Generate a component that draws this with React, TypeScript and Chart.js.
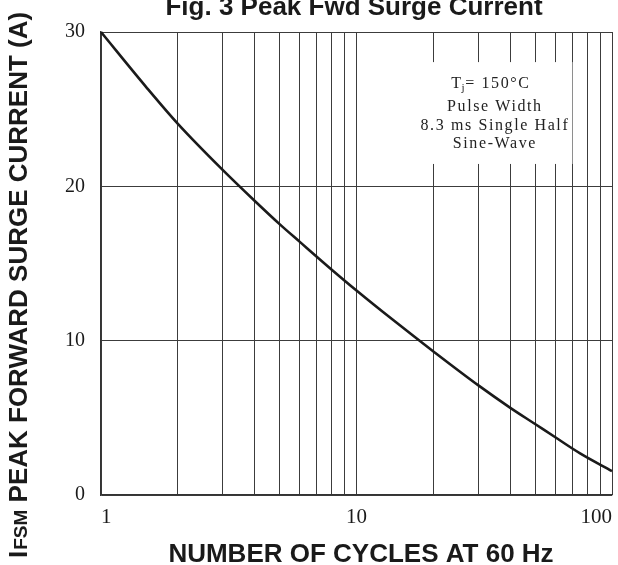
import React, { useEffect, useRef } from "react";
import { Chart, registerables } from "chart.js";

Chart.register(...registerables);

// ---- data ----
const X_CYCLES = [1, 1.5, 2, 3, 4, 5, 6, 8, 10, 14, 20, 30, 40, 50, 60, 75, 100];
const Y_CURRENT = [30, 26.45, 24.05, 21.05, 19.05, 17.55, 16.4, 14.6, 13.25, 11.3, 9.3, 7.1, 5.65, 4.6, 3.74, 2.7, 1.55];
const X_GRID = [1, 2, 3, 4, 5, 6, 7, 8, 9, 10, 20, 30, 40, 50, 60, 70, 80, 90, 100];
const X_TICK_LABELS = [1, 10, 100];
const Y_TICKS = [0, 10, 20, 30];

const TITLE = "Fig. 3 Peak Fwd Surge Current";
const X_TITLE = "NUMBER OF CYCLES AT 60 Hz";
const Y_TITLE_I = "I";
const Y_TITLE_SUB = "FSM";
const Y_TITLE_REST = " PEAK FORWARD SURGE CURRENT (A)";
const NOTE_T = "T";
const NOTE_J = "j";
const NOTE_TEMP = "= 150\u00B0C";
const NOTE_LINES = ["Pulse Width", "8.3 ms Single Half", "Sine-Wave"];

const INK = "#1a1a1a";
const SANS = "'Liberation Sans', Arial, sans-serif";
const SERIF = "'Liberation Serif', 'Times New Roman', serif";

const decorPlugin = {
  id: "decor",
  beforeDatasetsDraw(chart: any) {
    const ctx = chart.ctx as CanvasRenderingContext2D;
    const xs = chart.scales.x;
    const ys = chart.scales.y;
    // note box (white background interrupting the grid)
    const boxL = xs.getPixelForValue(15);
    const boxR = xs.getPixelForValue(70);
    const boxT = ys.getPixelForValue(28.05);
    const boxB = ys.getPixelForValue(21.45);
    ctx.save();
    ctx.fillStyle = "#ffffff";
    ctx.fillRect(boxL, boxT, boxR - boxL, boxB - boxT);
    ctx.fillStyle = "#222";
    (ctx as any).letterSpacing = "1.6px";
    ctx.font = `16px ${SERIF}`;
    ctx.textBaseline = "alphabetic";
    const cx = xs.getPixelForValue(34.5);
    // first line: T_j = 150°C
    ctx.textAlign = "left";
    const wT = ctx.measureText(NOTE_T).width;
    const wTemp = ctx.measureText(NOTE_TEMP).width;
    ctx.font = `11px ${SERIF}`;
    const wJ = ctx.measureText(NOTE_J).width;
    const total = wT + wJ + wTemp;
    let x0 = cx - total / 2 - 2;
    const b1 = boxT + 26;
    ctx.font = `16px ${SERIF}`;
    ctx.fillText(NOTE_T, x0, b1);
    x0 += wT;
    ctx.font = `11px ${SERIF}`;
    ctx.fillText(NOTE_J, x0 - 1, b1 + 3);
    x0 += wJ - 2;
    ctx.font = `16px ${SERIF}`;
    ctx.fillText(NOTE_TEMP, x0, b1);
    ctx.textAlign = "center";
    const bases = [b1 + 23, b1 + 42, b1 + 60];
    NOTE_LINES.forEach((t, i) => ctx.fillText(t, cx + 1, bases[i]));
    ctx.restore();
  },
  afterDraw(chart: any) {
    const ctx = chart.ctx as CanvasRenderingContext2D;
    ctx.save();
    ctx.fillStyle = INK;
    ctx.textBaseline = "alphabetic";
    // main title
    ctx.font = `bold 26px ${SANS}`;
    ctx.textAlign = "center";
    ctx.fillText(TITLE, 354, 15);
    // x title
    ctx.fillText(X_TITLE, 361, 562);
    // y title (rotated)
    ctx.translate(27, 558);
    ctx.rotate(-Math.PI / 2);
    ctx.textAlign = "left";
    let x = 0;
    ctx.font = `bold 26px ${SANS}`;
    ctx.fillText(Y_TITLE_I, x, 0);
    x += ctx.measureText(Y_TITLE_I).width + 1;
    ctx.font = `bold 19px ${SANS}`;
    ctx.fillText(Y_TITLE_SUB, x, 0);
    x += ctx.measureText(Y_TITLE_SUB).width;
    ctx.font = `bold 26px ${SANS}`;
    ctx.fillText(Y_TITLE_REST, x, 0);
    ctx.restore();
  },
};

export default function App() {
  const ref = useRef<HTMLCanvasElement | null>(null);

  useEffect(() => {
    document.body.style.margin = "0";
    const canvas = ref.current;
    if (!canvas) return;
    const chart = new Chart(canvas, {
      type: "line",
      data: {
        datasets: [
          {
            data: X_CYCLES.map((x, i) => ({ x, y: Y_CURRENT[i] })),
            borderColor: INK,
            borderWidth: 2.6,
            pointRadius: 0,
            cubicInterpolationMode: "monotone",
            fill: false,
            clip: false as any,
          },
        ],
      },
      options: {
        responsive: false,
        animation: false,
        devicePixelRatio: 1,
        layout: { padding: { top: 32, right: 6, left: 0, bottom: 0 } },
        plugins: {
          legend: { display: false },
          title: { display: false },
          tooltip: { enabled: false },
        },
        scales: {
          x: {
            type: "logarithmic",
            min: 1,
            max: 100,
            afterBuildTicks: (axis: any) => {
              axis.ticks = X_GRID.map((v) => ({ value: v }));
            },
            afterFit: (scale: any) => {
              scale.height = 70;
              scale.paddingLeft = 0;
              scale.paddingRight = 0;
            },
            grid: { color: "#3c3c3c", lineWidth: 1, drawTicks: false },
            border: { color: "#333", width: 1.3 },
            ticks: {
              autoSkip: false,
              maxRotation: 0,
              align: "inner",
              padding: 10,
              color: INK,
              font: { family: SERIF, size: 21 },
              callback: (v: any) => (X_TICK_LABELS.includes(Number(v)) ? String(v) : ""),
            },
          },
          y: {
            type: "linear",
            min: 0,
            max: 30,
            afterBuildTicks: (axis: any) => {
              axis.ticks = Y_TICKS.map((v) => ({ value: v }));
            },
            afterFit: (scale: any) => {
              scale.width = 101;
              scale.paddingTop = 0;
              scale.paddingBottom = 0;
            },
            grid: { color: "#3c3c3c", lineWidth: 1, drawTicks: false },
            border: { color: "#333", width: 1.3 },
            ticks: {
              padding: 16,
              color: INK,
              font: { family: SERIF, size: 20 },
              callback: (v: any) => String(v),
            },
          },
        },
      },
      plugins: [decorPlugin],
    });
    return () => chart.destroy();
  }, []);

  return (
    <div style={{ width: 618, height: 565 }}>
      <canvas ref={ref} width={618} height={565} style={{ display: "block", width: 618, height: 565 }} />
    </div>
  );
}
